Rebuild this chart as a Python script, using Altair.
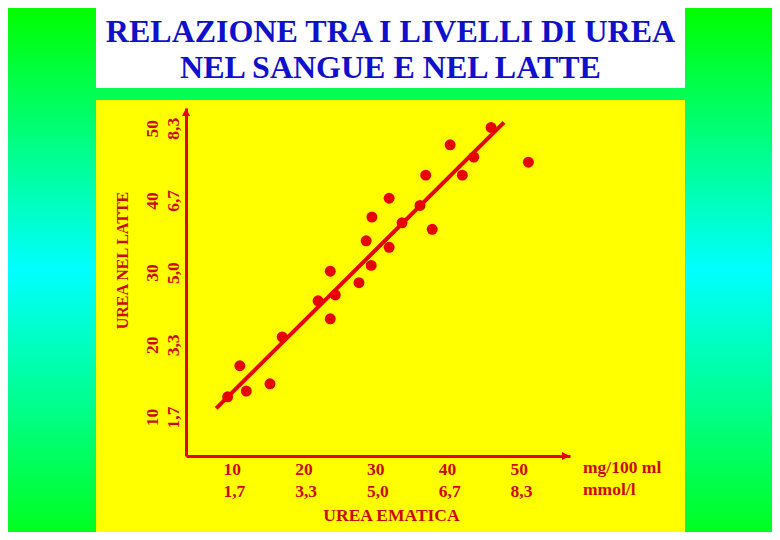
import altair as alt
import pandas as pd

# ---- data (mg/100 ml) ----
BLOOD_UREA = [9.4, 11.1, 12.0, 15.3, 17.0, 22.0, 23.7, 24.4, 23.7, 27.7, 28.7, 29.4,
              29.5, 31.9, 31.9, 33.7, 36.2, 37.0, 37.9, 40.4, 42.1, 43.7, 46.1, 51.3]
MILK_UREA = [12.8, 17.1, 13.6, 14.6, 21.1, 26.1, 30.2, 26.9, 23.6, 28.6, 34.4, 31.0,
             37.7, 33.5, 40.3, 36.9, 39.3, 43.5, 36.0, 47.7, 43.5, 46.0, 50.1, 45.3]
FIT_X = [7.8, 47.9]
FIT_Y = [11.2, 50.8]

TICKS_MG = [10, 20, 30, 40, 50]
TICKS_MMOL = ["1,7", "3,3", "5,0", "6,7", "8,3"]
UNIT_LINES = ["mg/100 ml", "mmol/l"]
TITLE_LINES = ["RELAZIONE TRA I LIVELLI DI UREA", "NEL SANGUE E NEL LATTE"]
X_TITLE = "UREA EMATICA"
Y_TITLE = "UREA NEL LATTE"

X_DOMAIN = [3.6, 57.1]
Y_DOMAIN = [4.6, 52.8]

RED = "#e60000"
TXT_RED = "#cc0a00"
BLUE = "#1010cc"
FONT = "Liberation Serif"

pts = pd.DataFrame({"x": BLOOD_UREA, "y": MILK_UREA})
fit = pd.DataFrame({"x": FIT_X, "y": FIT_Y})

label_expr = " : ".join(
    f"datum.value == {v} ? ['{v}', '{m}']" for v, m in zip(TICKS_MG, TICKS_MMOL)
) + " : ''"

xscale = alt.Scale(domain=X_DOMAIN, nice=False, zero=False)
yscale = alt.Scale(domain=Y_DOMAIN, nice=False, zero=False)

x_axis = alt.Axis(
    values=TICKS_MG, labelExpr=label_expr, ticks=False, grid=False,
    domainColor=RED, domainWidth=3, zindex=1,
    labelFont=FONT, labelFontWeight="bold", labelFontSize=17.5, labelColor=TXT_RED,
    labelAlign="left", labelOffset=-9, labelBaseline="top", labelPadding=4,
    labelLineHeight=22, labelFlush=False, labelOverlap=False,
    title=X_TITLE, titleFont=FONT, titleFontWeight="bold", titleFontSize=17.5,
    titleColor=TXT_RED, titleX=205, titleY=64, titleAlign="center",
    titleBaseline="alphabetic", titleAnchor="middle",
)
y_axis = alt.Axis(
    values=TICKS_MG, labelExpr=label_expr, ticks=False, grid=False,
    domainColor=RED, domainWidth=3, zindex=1,
    labelFont=FONT, labelFontWeight="bold", labelFontSize=17.5, labelColor=TXT_RED,
    labelAngle=-90, labelAlign="center", labelBaseline="bottom", labelPadding=25,
    labelLineHeight=21, labelFlush=False, labelOverlap=False,
    title=Y_TITLE, titleFont=FONT, titleFontWeight="bold", titleFontSize=16,
    titleColor=TXT_RED, titleAngle=-90, titleX=-59, titleY=152, titleAlign="center",
    titleBaseline="alphabetic",
)

one = alt.Data(values=[{}])

bg = alt.Chart(one).mark_rect(
    color=alt.Gradient(
        gradient="linear", x1=0, y1=0, x2=0, y2=1,
        stops=[alt.GradientStop(color="#00ff00", offset=0),
               alt.GradientStop(color="#00ffff", offset=0.5),
               alt.GradientStop(color="#00ff20", offset=1)],
    )
).encode(x=alt.value(-178), x2=alt.value(586), y=alt.value(-100), y2=alt.value(424))

panel = alt.Chart(one).mark_rect(color="#ffff00").encode(
    x=alt.value(-90), x2=alt.value(499), y=alt.value(-8), y2=alt.value(427))

title_box = alt.Chart(one).mark_rect(color="#ffffff").encode(
    x=alt.value(-90), x2=alt.value(499), y=alt.value(-103), y2=alt.value(-20))

title_txt = alt.Chart(one).mark_text(
    font=FONT, fontWeight="bold", fontSize=32, color=BLUE, align="center",
    baseline="alphabetic", lineHeight=36,
).encode(x=alt.value(204.5), y=alt.value(-66), text=alt.value(TITLE_LINES))

units = alt.Chart(one).mark_text(
    font=FONT, fontWeight="bold", fontSize=17.5, color=TXT_RED, align="left",
    baseline="alphabetic", lineHeight=22,
).encode(x=alt.value(397), y=alt.value(365), text=alt.value(UNIT_LINES))

line = alt.Chart(fit).mark_line(color=RED, strokeWidth=4).encode(
    x=alt.X("x:Q", scale=xscale, axis=x_axis),
    y=alt.Y("y:Q", scale=yscale, axis=y_axis),
)

points = alt.Chart(pts).mark_circle(color=RED, size=120, opacity=1).encode(
    x=alt.X("x:Q", scale=xscale),
    y=alt.Y("y:Q", scale=yscale),
)

arrow_x = alt.Chart(one).mark_point(
    shape="M0,0L-2,-1L-2,1Z", filled=True, size=64, color=RED, opacity=1
).encode(x=alt.datum(X_DOMAIN[1], scale=xscale), y=alt.datum(Y_DOMAIN[0], scale=yscale))

arrow_y = alt.Chart(one).mark_point(
    shape="M0,0L-1,2L1,2Z", filled=True, size=64, color=RED, opacity=1
).encode(x=alt.datum(X_DOMAIN[0], scale=xscale), y=alt.datum(Y_DOMAIN[1], scale=yscale))

chart = alt.layer(
    bg, panel, title_box, title_txt, units, line, points, arrow_x, arrow_y
).properties(
    width=384, height=348,
    autosize=alt.AutoSizeParams(type="none"),
    padding={"left": 178, "top": 100, "right": 202, "bottom": 76},
    background="#00ff40",
).configure_view(stroke=None)

chart.save("out.html", embed_options={"renderer": "svg", "actions": False})
